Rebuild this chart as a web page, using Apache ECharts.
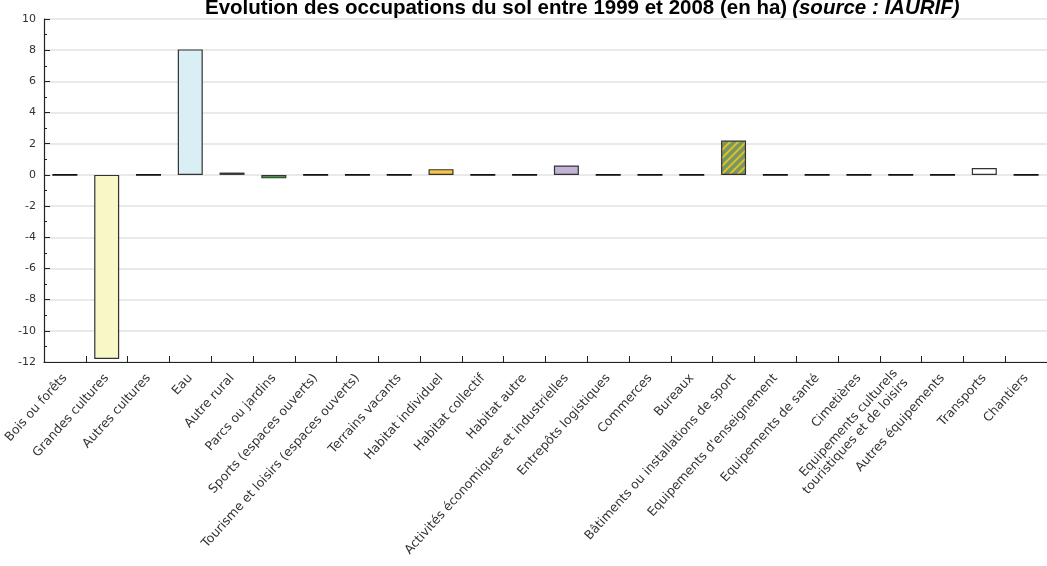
<!DOCTYPE html>
<html>
<head>
<meta charset="utf-8">
<script src="https://cdn.jsdelivr.net/npm/echarts@6/dist/echarts.min.js"></script>
<style>html,body{margin:0;padding:0;background:#fff;}#c{width:1047px;height:566px;}</style>
</head>
<body>
<div id="c"></div>
<script>
var categories = [
  "Bois ou forêts", "Grandes cultures", "Autres cultures", "Eau", "Autre rural",
  "Parcs ou jardins", "Sports (espaces ouverts)", "Tourisme et loisirs (espaces ouverts)",
  "Terrains vacants", "Habitat individuel", "Habitat collectif", "Habitat autre",
  "Activités économiques et industrielles", "Entrepôts logistiques", "Commerces", "Bureaux",
  "Bâtiments ou installations de sport", "Equipements d'enseignement", "Equipements de santé",
  "Cimetières", "Equipements culturels\ntouristiques et de loisirs", "Autres équipements",
  "Transports", "Chantiers"
];
var values = [0, -11.8, 0, 8.05, 0.15, -0.22, 0, 0, 0, 0.37, 0, 0, 0.6, 0, 0, 0, 2.2, 0, 0, 0, 0, 0, 0.44, 0];
var yTicks = {min: -12, max: 10, interval: 2};
var titleMain = "Evolution des occupations du sol entre 1999 et 2008 (en ha)";
var titleSource = "(source : IAURIF)";

// styles
var palette = ["#ffffff", "#f8f8c6", "#ffffff", "#d9eef5", "#e6dcb6", "#3d9a3d", "#ffffff", "#ffffff",
  "#ffffff", "#f7c646", "#ffffff", "#ffffff", "#c1b3d8", "#ffffff", "#ffffff", "#ffffff",
  "hatch", "#ffffff", "#ffffff", "#ffffff", "#ffffff", "#ffffff", "#ffffff", "#ffffff"];

function hatchPattern() {
  var c = document.createElement('canvas');
  c.width = 8; c.height = 8;
  var g = c.getContext('2d');
  g.fillStyle = '#789860';
  g.fillRect(0, 0, 8, 8);
  g.strokeStyle = '#e8c228';
  g.lineWidth = 1.8;
  g.beginPath();
  g.moveTo(-2, 10); g.lineTo(10, -2);
  g.moveTo(-6, 6); g.lineTo(6, -6);
  g.moveTo(2, 14); g.lineTo(14, 2);
  g.stroke();
  return {image: c, repeat: 'repeat'};
}
var hatch = hatchPattern();

var chart = echarts.init(document.getElementById('c'), null, {renderer: 'canvas'});
var data = values.map(function (v, i) {
  var col = palette[i] === 'hatch' ? hatch : palette[i];
  return {
    value: v,
    itemStyle: v === 0
      ? {color: '#000', borderColor: '#111', borderWidth: 1.8}
      : {color: col, borderColor: '#333', borderWidth: 1.2}
  };
});

chart.setOption({
  animation: false,
  backgroundColor: '#fff',
  title: {
    text: '{b|' + titleMain + '} {i|' + titleSource + '}',
    left: 200, top: -7,
    textStyle: {
      rich: {
        b: {fontFamily: 'Liberation Sans', fontWeight: 'bold', fontSize: 20.5, color: '#000'},
        i: {fontFamily: 'Liberation Sans', fontStyle: 'italic', fontSize: 20.5, color: '#000'}
      }
    }
  },
  grid: {left: 44, right: -7, top: 19, bottom: 204, containLabel: false},
  xAxis: {
    type: 'category',
    data: categories,
    axisLine: {onZero: false, lineStyle: {color: '#222', width: 1.2}},
    axisTick: {show: true, inside: true, length: 6, alignWithLabel: false, lineStyle: {color: '#222'}},
    axisLabel: {
      interval: 0, rotate: 48, margin: 14, color: '#333',
      fontFamily: 'DejaVu Sans', fontSize: 12.5, lineHeight: 14
    },
    splitLine: {show: false}
  },
  yAxis: {
    type: 'value',
    min: yTicks.min, max: yTicks.max, interval: yTicks.interval,
    axisLine: {show: true, lineStyle: {color: '#222', width: 1.2}},
    axisTick: {show: true, inside: true, length: 6, lineStyle: {color: '#222'}},
    minorTick: {show: true, splitNumber: 2, length: 3, lineStyle: {color: '#222'}},
    axisLabel: {color: '#333', fontFamily: 'DejaVu Sans', fontSize: 11, margin: 8},
    splitLine: {show: true, lineStyle: {color: '#e2e2e2', width: 1.5}}
  },
  series: [{
    type: 'bar',
    data: data,
    barWidth: 25,
    barMinHeight: 0
  }]
});
</script>
</body>
</html>
